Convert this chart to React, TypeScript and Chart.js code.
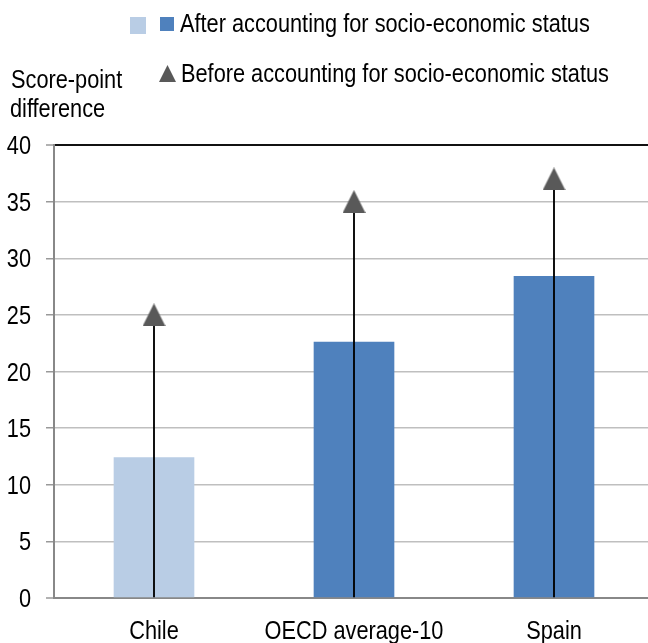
import React, { useEffect, useRef } from "react";
import { Chart, registerables } from "chart.js";

Chart.register(...registerables);

const categories = ["Chile", "OECD average-10", "Spain"];
const afterSES = [12.4, 22.6, 28.4];
const beforeSES = [25, 35, 37];
const barColors = ["#b9cde5", "#4f81bd", "#4f81bd"];
const yMin = 0;
const yMax = 40;
const yStep = 5;
const legendAfter = "After accounting for socio-economic status";
const legendBefore = "Before accounting for socio-economic status";
const yTitle = ["Score-point", "difference"];

const FONT = "'Liberation Sans', Arial, sans-serif";
const FONT_SIZE = 25;
const NARROW = 0.87;
const TRI = "#595959";

function makeTriangle(w: number, h: number, color: string) {
  const c = document.createElement("canvas");
  c.width = w;
  c.height = h;
  const g = c.getContext("2d")!;
  g.fillStyle = color;
  g.beginPath();
  g.moveTo(w / 2, 0);
  g.lineTo(w, h);
  g.lineTo(0, h);
  g.closePath();
  g.fill();
  return c;
}

function narrowText(ctx: CanvasRenderingContext2D, text: string, x: number, y: number, align: CanvasTextAlign) {
  ctx.save();
  ctx.translate(x, y);
  ctx.scale(NARROW, 1);
  ctx.textAlign = align;
  ctx.textBaseline = "alphabetic";
  ctx.fillText(text, 0, 0);
  ctx.restore();
}

const textPlugin = {
  id: "narrowText",
  afterDraw(chart: any) {
    const ctx = chart.ctx as CanvasRenderingContext2D;
    ctx.save();
    // legend symbols
    ctx.fillStyle = "#b9cde5";
    ctx.fillRect(130, 17, 16, 17);
    ctx.fillStyle = "#4f81bd";
    ctx.fillRect(160, 17, 14, 14);
    ctx.fillStyle = TRI;
    ctx.beginPath();
    ctx.moveTo(167.5, 65);
    ctx.lineTo(176, 82);
    ctx.lineTo(159, 82);
    ctx.closePath();
    ctx.fill();
    // texts
    ctx.fillStyle = "#000";
    ctx.font = `${FONT_SIZE}px ${FONT}`;
    narrowText(ctx, legendAfter, 180, 32, "left");
    narrowText(ctx, legendBefore, 181, 82, "left");
    narrowText(ctx, yTitle[0], 11, 88, "left");
    narrowText(ctx, yTitle[1], 10, 117, "left");
    // y tick labels
    const ys = chart.scales.y;
    ys.ticks.forEach((t: any) => {
      const py = ys.getPixelForValue(t.value);
      narrowText(ctx, String(t.value), 31, py + 9, "right");
    });
    // x tick labels
    const xs = chart.scales.x;
    categories.forEach((lab, i) => {
      const px = xs.getPixelForValue(i);
      narrowText(ctx, lab, px, 639, "center");
    });
    ctx.restore();
  },
};

export default function App() {
  const ref = useRef<HTMLCanvasElement | null>(null);
  useEffect(() => {
    if (!ref.current) return;
    const tri = makeTriangle(23, 23, TRI);
    const chart = new Chart(ref.current, {
      type: "bar",
      data: {
        labels: categories,
        datasets: [
          {
            type: "line",
            label: legendBefore,
            data: beforeSES,
            showLine: false,
            pointStyle: tri as any,
            pointRadius: 12,
            order: 0,
          } as any,
          {
            type: "bar",
            label: "stem",
            data: beforeSES.map((v) => [0, v]) as any,
            backgroundColor: "#000",
            barThickness: 1.2,
            grouped: false,
            order: 1,
          },
          {
            type: "bar",
            label: legendAfter,
            data: afterSES,
            backgroundColor: barColors,
            barThickness: 80,
            grouped: false,
            order: 2,
          },
        ],
      },
      options: {
        animation: false,
        responsive: false,
        devicePixelRatio: 1,
        layout: { padding: { top: 145, left: 0, right: 6, bottom: 0 } },
        plugins: {
          legend: { display: false },
          tooltip: { enabled: false },
        },
        scales: {
          x: {
            offset: true,
            grid: { display: false, drawTicks: false },
            border: { display: true, color: "#888888", width: 2 },
            ticks: { display: false, autoSkip: false },
            afterFit: (scale: any) => {
              scale.height = 45;
            },
          },
          y: {
            min: yMin,
            max: yMax,
            ticks: { stepSize: yStep, display: false },
            grid: {
              color: (c: any) =>
                c.tick && c.tick.value === yMax ? "#111111" : c.tick && c.tick.value === yMin ? "#888888" : "#bfbfbf",
              lineWidth: (c: any) => (c.tick && (c.tick.value === yMax || c.tick.value === yMin) ? 2 : 1.5),
              tickColor: "#999999",
              tickLength: 8,
              tickWidth: 1.5,
              drawTicks: true,
            },
            border: { display: true, color: "#888888", width: 2 },
            afterFit: (scale: any) => {
              scale.width = 54;
            },
          },
        },
      },
      plugins: [textPlugin],
    });
    return () => chart.destroy();
  }, []);

  return (
    <div
      style={{
        position: "fixed",
        left: 0,
        top: 0,
        width: 648,
        height: 643,
        overflow: "hidden",
        background: "#fff",
      }}
    >
      <canvas ref={ref} width={667} height={643} style={{ width: 667, height: 643, display: "block" }} />
    </div>
  );
}
